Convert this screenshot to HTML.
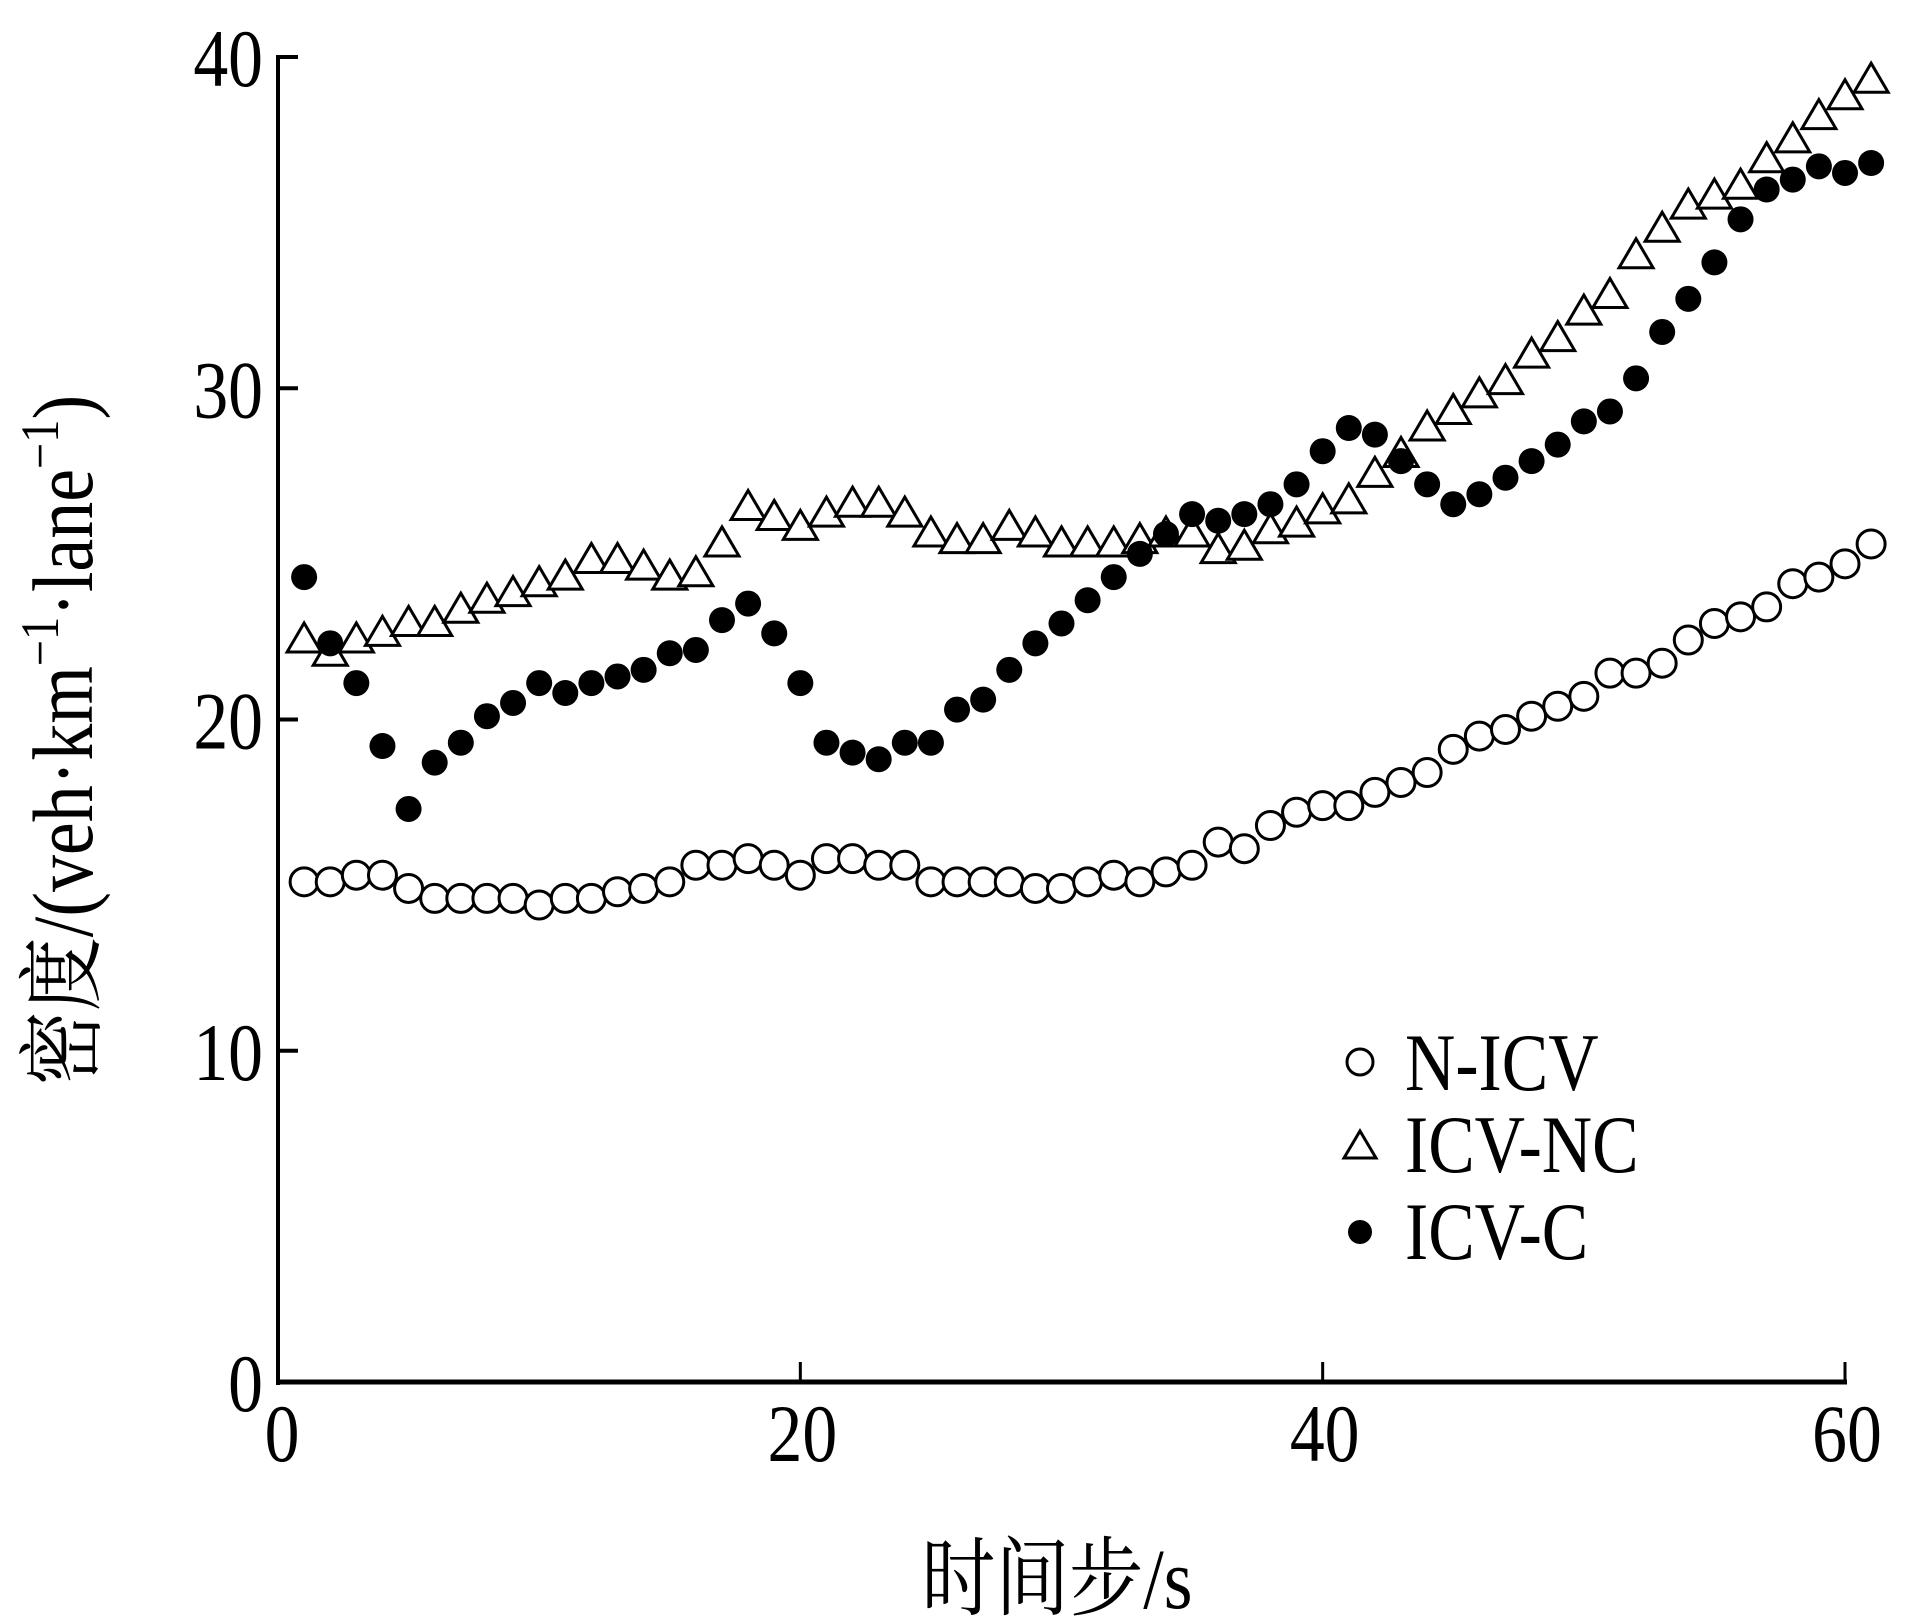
<!DOCTYPE html>
<html><head><meta charset="utf-8"><style>
html,body{margin:0;padding:0;background:#fff;}
svg{display:block;}
text{font-family:"Liberation Serif","Noto Serif CJK SC",serif;fill:#000;}
</style></head><body>
<svg id="chart" width="1917" height="1623" viewBox="0 0 1917 1623" xmlns="http://www.w3.org/2000/svg">
<g id="axes"></g>
<g id="marks"></g>
<text font-size="86" text-anchor="middle" transform="translate(1057 1608) scale(0.86 1)">时间步/s</text>
<text font-size="86" text-anchor="middle" transform="translate(92 740) rotate(-90) scale(0.86 1)">密度/(veh·km<tspan font-size="54" dy="-34">−1</tspan><tspan dy="34">·lane</tspan><tspan font-size="54" dy="-34">−1</tspan><tspan dy="34">)</tspan></text>
<g id="legend">
<g><circle cx="1360" cy="1062" r="13" fill="none" stroke="#000" stroke-width="3"/><text font-size="82" transform="translate(1405 1090) scale(0.85 1)">N-ICV</text></g>
<g><polygon points="1360,1131 1376,1158 1344,1158" fill="none" stroke="#000" stroke-width="3"/><text font-size="82" transform="translate(1405 1172) scale(0.85 1)">ICV-NC</text></g>
<g><circle cx="1360" cy="1232" r="12" fill="#000"/><text font-size="82" transform="translate(1405 1259) scale(0.85 1)">ICV-C</text></g>
</g>
</svg>
<script>
const xTicks = [0, 20, 40, 60];
const yTicks = [0, 10, 20, 30, 40];
const nIcv = [15.1,15.1,15.3,15.3,14.9,14.6,14.6,14.6,14.6,14.4,14.6,14.6,14.8,14.9,15.1,15.6,15.6,15.8,15.6,15.3,15.8,15.8,15.6,15.6,15.1,15.1,15.1,15.1,14.9,14.9,15.1,15.3,15.1,15.4,15.6,16.3,16.1,16.8,17.2,17.4,17.4,17.8,18.1,18.4,19.1,19.5,19.7,20.1,20.4,20.7,21.4,21.4,21.7,22.4,22.9,23.1,23.4,24.1,24.3,24.7,25.3];
const icvNc = [22.4,22.0,22.4,22.6,22.9,22.9,23.3,23.6,23.8,24.1,24.3,24.8,24.8,24.6,24.3,24.4,25.3,26.4,26.1,25.8,26.2,26.5,26.5,26.2,25.6,25.4,25.4,25.8,25.6,25.3,25.3,25.3,25.4,25.6,25.6,25.1,25.2,25.7,25.9,26.3,26.6,27.4,28.0,28.8,29.3,29.8,30.2,31.0,31.5,32.3,32.8,34.0,34.8,35.5,35.8,36.1,36.9,37.5,38.2,38.8,39.3];
const icvC = [24.3,22.3,21.1,19.2,17.3,18.7,19.3,20.1,20.5,21.1,20.8,21.1,21.3,21.5,22.0,22.1,23.0,23.5,22.6,21.1,19.3,19.0,18.8,19.3,19.3,20.3,20.6,21.5,22.3,22.9,23.6,24.3,25.0,25.6,26.2,26.0,26.2,26.5,27.1,28.1,28.8,28.6,27.8,27.1,26.5,26.8,27.3,27.8,28.3,29.0,29.3,30.3,31.7,32.7,33.8,35.1,36.0,36.3,36.7,36.5,36.8];

const NS = 'http://www.w3.org/2000/svg';
const X0 = 278, X1 = 1845, Y0 = 1382, Y1 = 57;
function sx(v){ return X0 + (v - 0) / 60 * (X1 - X0); }
function sy(v){ return Y0 - (v - 0) / 40 * (Y0 - Y1); }
function mk(tag, attrs, parent){ const e = document.createElementNS(NS, tag); for (const k in attrs) e.setAttribute(k, attrs[k]); parent.appendChild(e); return e; }

const axes = document.getElementById('axes');
let l = mk('line', {x1:X0, y1:Y1-2, x2:X0, y2:Y0+3, stroke:'#000', 'stroke-width':4}, axes);


l = mk('line', {x1:X0-2, y1:Y0, x2:X1+2, y2:Y0, stroke:'#000', 'stroke-width':5}, axes);


yTicks.forEach(t => {
  const y = sy(t);
  const tk = mk('line', {x1:X0, y1:y, x2:X0+20, y2:y, stroke:'#000', 'stroke-width':4}, axes);
  
  
  const tx = mk('text', {'font-size':82, 'text-anchor':'end', transform:`translate(263 ${y+29}) scale(0.85 1)`}, axes);
  
  
  tx.textContent = t;
});
xTicks.forEach(t => {
  const x = sx(t);
  const tk = mk('line', {x1:x, y1:Y0, x2:x, y2:Y0-20, stroke:'#000', 'stroke-width':3}, axes);
  
  
  const tx = mk('text', {'font-size':82, 'text-anchor':'middle', transform:`translate(${x+(t===0?4:2)} 1461) scale(0.85 1)`}, axes);
  
  
  tx.textContent = t;
});

const marks = document.getElementById('marks');
const gA = mk('g', {}, marks);


nIcv.forEach((v, i) => {
  const c = mk('circle', {cx:sx(i+1), cy:sy(v), r:14, fill:'#fff', stroke:'#000', 'stroke-width':3}, gA);
  
  
});
const gB = mk('g', {}, marks);


icvNc.forEach((v, i) => {
  const x = sx(i+1), y = sy(v);
  const p = mk('polygon', {points:`${x},${y-17} ${x+17},${y+12} ${x-17},${y+12}`, fill:'#fff', stroke:'#000', 'stroke-width':3}, gB);
  
  
});
const gC = mk('g', {}, marks);


icvC.forEach((v, i) => {
  const c = mk('circle', {cx:sx(i+1), cy:sy(v), r:13, fill:'#000'}, gC);
  
  
});
</script>
</body></html>
